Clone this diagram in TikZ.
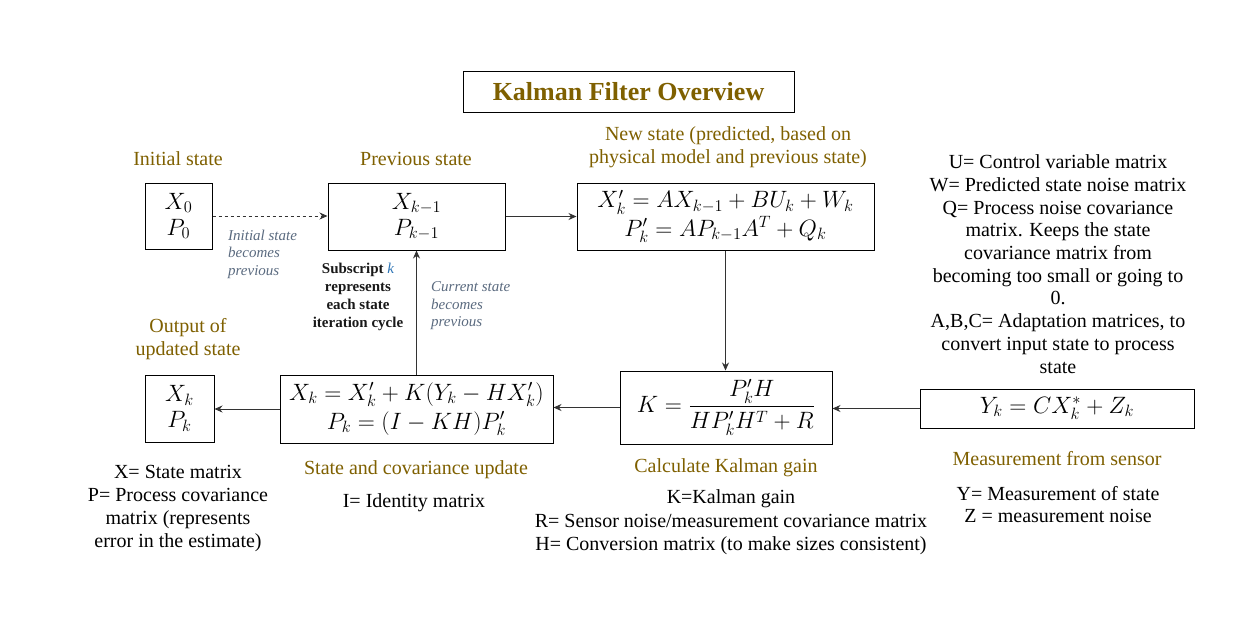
\RequirePackage{fix-cm}
\documentclass[tikz,border=0pt]{standalone}
\usepackage{amsmath}
\usepackage{graphicx}
\usepackage{fontspec}
\setmainfont{Liberation Serif}
\usetikzlibrary{arrows.meta}
\definecolor{gold}{HTML}{7F6000}
\definecolor{notegray}{HTML}{5B6B80}
\definecolor{kblue}{HTML}{2E75B6}
\newcommand{\mth}[1]{\scalebox{1.14}{$#1$}}
\begin{document}
\begin{tikzpicture}[x=1pt,y=-1pt,
  box/.style={draw, line width=1pt, inner sep=0pt, align=center, font=\fontsize{20.74}{25}\selectfont},
  head/.style={text=gold, font=\fontsize{20}{23}\selectfont, align=center, inner sep=0pt},
  body/.style={text=black, font=\fontsize{20}{22.7}\selectfont, align=center, inner sep=0pt},
  notetxt/.style={text=notegray, font=\fontsize{15}{17.5}\selectfont\itshape, align=left, inner sep=0pt},
  boldnote/.style={text=black!90, font=\fontsize{15}{18}\selectfont\bfseries, align=center, inner sep=0pt},
  arr/.style={-{Stealth[length=8pt,width=7pt]}, line width=0.9pt, draw=black!80}]
\useasboundingbox (0,0) rectangle (1260,638);
\fill[white] (0,0) rectangle (1260,638);

% title
\node[draw, line width=1pt, minimum width=331pt, minimum height=41pt, text=gold,
  font=\fontsize{26}{30}\selectfont\bfseries] (title) at (628.5,91.5) {Kalman Filter Overview};

% boxes
\node[box, minimum width=67pt, minimum height=66pt] (init) at (178.5,216) {\mth{X_0}\\[1pt]\mth{P_0}};
\node[box, minimum width=177pt, minimum height=67pt] (prev) at (416.5,216.5) {\mth{X_{k-1}}\\[1pt]\mth{P_{k-1}}};
\node[box, minimum width=297pt, minimum height=67pt] (new) at (725.5,216.5)
  {\mth{X'_k = AX_{k-1} + BU_k + W_k}\\[1pt]\mth{P'_k = AP_{k-1}A^T + Q_k}};
\node[box, minimum width=212pt, minimum height=73pt] (gain) at (726,407.5)
  {\mth{\displaystyle K = \frac{P'_kH}{HP'_kH^T + R}}};
\node[box, minimum width=274pt, minimum height=39pt] (meas) at (1057,408.5)
  {\mth{Y_k = CX_k^{*} + Z_k}};
\node[box, minimum width=273pt, minimum height=68pt] (upd) at (416.5,409)
  {\mth{X_k = X'_k + K(Y_k - HX'_k)}\\[4pt]\mth{P_k = (I - KH)P'_k}};
\node[box, minimum width=69pt, minimum height=67pt] (out) at (179.5,408.5) {\mth{X_k}\\[1pt]\mth{P_k}};

% connectors
\draw[arr, dashed] (init.east) -- (init.east -| prev.west);
\draw[arr] (prev.east) -- (prev.east -| new.west);
\draw[arr] (new.south) -- (new.south |- gain.north);
\draw[arr] (meas.west) -- (meas.west -| gain.east);
\draw[arr] (gain.west) -- (gain.west -| upd.east);
\draw[arr] (upd.north) -- (upd.north |- prev.south);
\draw[arr] (upd.west) -- (upd.west -| out.east);

% headings
\node[head] (hinit) at (178,159) {Initial state};
\node[head] (hprev) at (416,159) {Previous state};
\node[head] (hnew) at (728,147) {New state (predicted, based on\\physical model and previous state)};
\node[head] (hout) at (188,339.5) {Output of\\updated state};
\node[head] (hupd) at (416,470) {State and covariance update};
\node[head] (hgain) at (726,468) {Calculate Kalman gain};
\node[head] (hmeas) at (1057,459) {Measurement from sensor};

% notes
\node[notetxt, anchor=west] (n1) at (228,254) {Initial state\\becomes\\previous};
\node[notetxt, anchor=west] (n2) at (431,306) {Current state\\becomes\\previous};
\node[boldnote] (n3) at (358,297) {Subscript \textcolor{kblue}{\mdseries\itshape k}\\represents\\each state\\iteration cycle};

% body texts
\node[body] (t1) at (1058,264) {U= Control variable matrix\\W= Predicted state noise matrix\\Q= Process noise covariance\\matrix. Keeps the state\\covariance matrix from\\becoming too small or going to\\0.\\A,B,C= Adaptation matrices, to\\convert input state to process\\state};
\node[body] (t2) at (178,508.5) {X= State matrix\\P= Process covariance\\matrix (represents\\error in the estimate)};
\node[body] (t3) at (414,503) {I= Identity matrix};
\node[body, font=\fontsize{20}{23.5}\selectfont] (t4) at (731,522.5) {K=Kalman gain\\R= Sensor noise/measurement covariance matrix\\H= Conversion matrix (to make sizes consistent)};
\node[body] (t5) at (1058,504.5) {Y= Measurement of state\\Z = measurement noise};
\end{tikzpicture}
\end{document}
